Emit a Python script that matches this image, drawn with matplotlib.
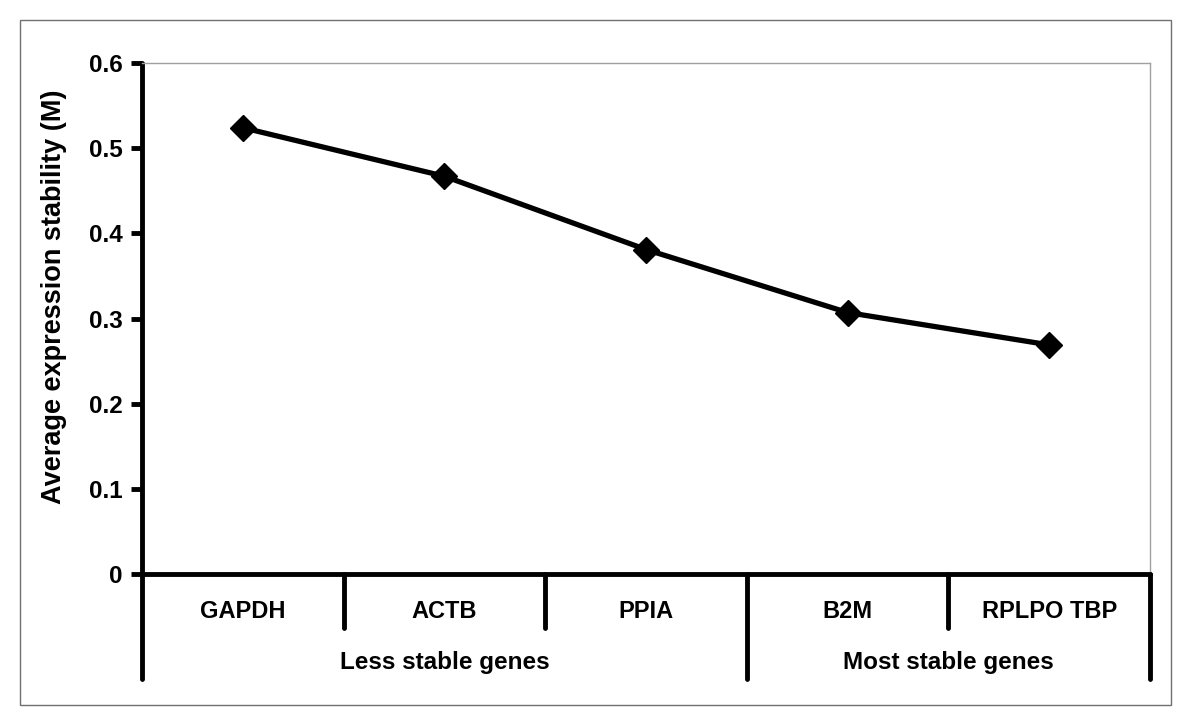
import matplotlib.pyplot as plt
import matplotlib.transforms as mtransforms
from matplotlib.patches import Rectangle
import numpy as np

plt.rcParams['font.family'] = ['Liberation Sans', 'DejaVu Sans']
plt.rcParams['font.weight'] = 'bold'

# data
genes = ["GAPDH", "ACTB", "PPIA", "B2M", "RPLPO TBP"]
stability = [0.524, 0.467, 0.381, 0.307, 0.269]
groups = ["Less stable genes", "Most stable genes"]
group_edges = [(-0.5, 2.5), (2.5, 4.5)]
yticks = [0, 0.1, 0.2, 0.3, 0.4, 0.5, 0.6]

fig = plt.figure(figsize=(12, 7.28), dpi=100)
ax = fig.add_axes([142/1200, 1 - 574/728, (1150-142)/1200, (574-63)/728])

x = np.arange(len(genes))
ax.plot(x, stability, color="black", lw=3.8, marker="D", ms=13, zorder=3)

ax.set_xlim(-0.5, len(genes) - 0.5)
ax.set_ylim(0, 0.6)
ax.set_yticks(yticks)
ax.set_yticklabels(["0" if v == 0 else f"{v:.1f}" for v in yticks])
ax.set_xticks([])
ax.tick_params(axis="y", direction="out", length=8, width=3.5, labelsize=17.5, pad=6)

for s in ["left", "bottom"]:
    ax.spines[s].set_linewidth(3.5)
    ax.spines[s].set_capstyle("round")
for s in ["top", "right"]:
    ax.spines[s].set_linewidth(1)
    ax.spines[s].set_color("#a0a0a0")

ax.set_ylabel("Average expression stability (M)", fontsize=19.5, fontweight="bold")
ax.yaxis.set_label_coords(-(142 - 67) / 1008, (574 - 297) / 511)

# category table below the axis
trans = mtransforms.blended_transform_factory(ax.transData, ax.transAxes)
inner_depth = -(628 - 574) / 511
outer_depth = -(679 - 574) / 511
for i, g in enumerate(genes):
    ax.text(i, -(611 - 574) / 511, g, transform=trans, ha="center", va="center",
            fontsize=17, fontweight="bold")
edges = sorted(set([e for pair in group_edges for e in pair]))
for b in np.arange(-0.5, len(genes)):
    depth = outer_depth if b in edges else inner_depth
    ax.plot([b, b], [0, depth], transform=trans, color="black", lw=3.5,
            solid_capstyle="round", clip_on=False)
for name, (a, b) in zip(groups, group_edges):
    ax.text((a + b) / 2, -(663 - 574) / 511, name, transform=trans, ha="center",
            va="center", fontsize=17.5, fontweight="bold")

# outer frame
fig.patches.append(Rectangle((20/1200, 1 - 705/728), (1171-20)/1200, (705-20)/728,
                             transform=fig.transFigure, fill=False,
                             edgecolor="#707070", lw=1))

fig.savefig("out.png", dpi=100)
